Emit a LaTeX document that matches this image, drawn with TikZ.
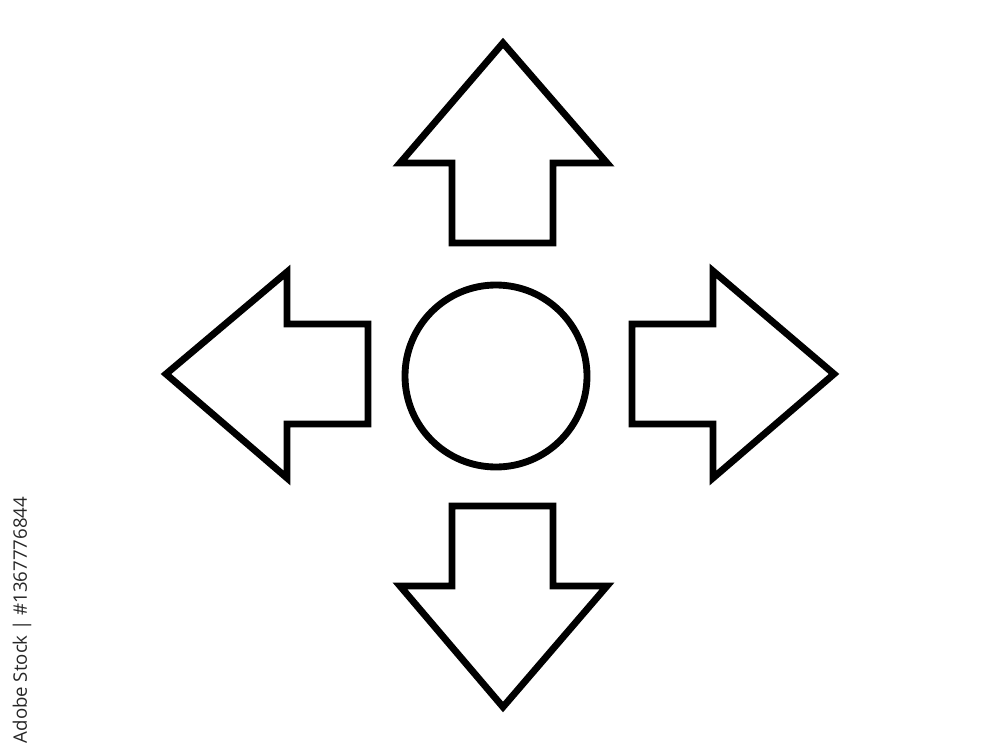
\documentclass[tikz,border=0pt]{standalone}
\usepackage{fontspec}
\newfontfamily\stockfont{Open Sans}
\begin{document}
\begin{tikzpicture}[x=0.02cm,y=-0.02cm,
  outline/.style={draw=black,line width=3.9pt,line join=miter,fill=white}]
\useasboundingbox (0,0) rectangle (1000,750);
% up arrow
\draw[outline] (503,43) -- (607,163) -- (553,163) -- (553,243) -- (452,243) -- (452,163) -- (400,163) -- cycle;
% down arrow
\draw[outline] (503,707) -- (607,586) -- (553,586) -- (553,506) -- (452,506) -- (452,586) -- (400,586) -- cycle;
% left arrow
\draw[outline] (166,374) -- (287,272) -- (287,324) -- (368,324) -- (368,424) -- (287,424) -- (287,478) -- cycle;
% right arrow
\draw[outline] (834,374) -- (713,271) -- (713,324) -- (632,324) -- (632,424) -- (713,424) -- (713,478) -- cycle;
% circle
\draw[outline] (496,376) circle[radius=91];
% id text
\node[rotate=90,anchor=center,inner sep=0pt,text=black!85,font=\stockfont\fontsize{10.6pt}{12pt}\selectfont] (stockid) at (22,620) {Adobe Stock | \#1367776844};
\end{tikzpicture}
\end{document}
